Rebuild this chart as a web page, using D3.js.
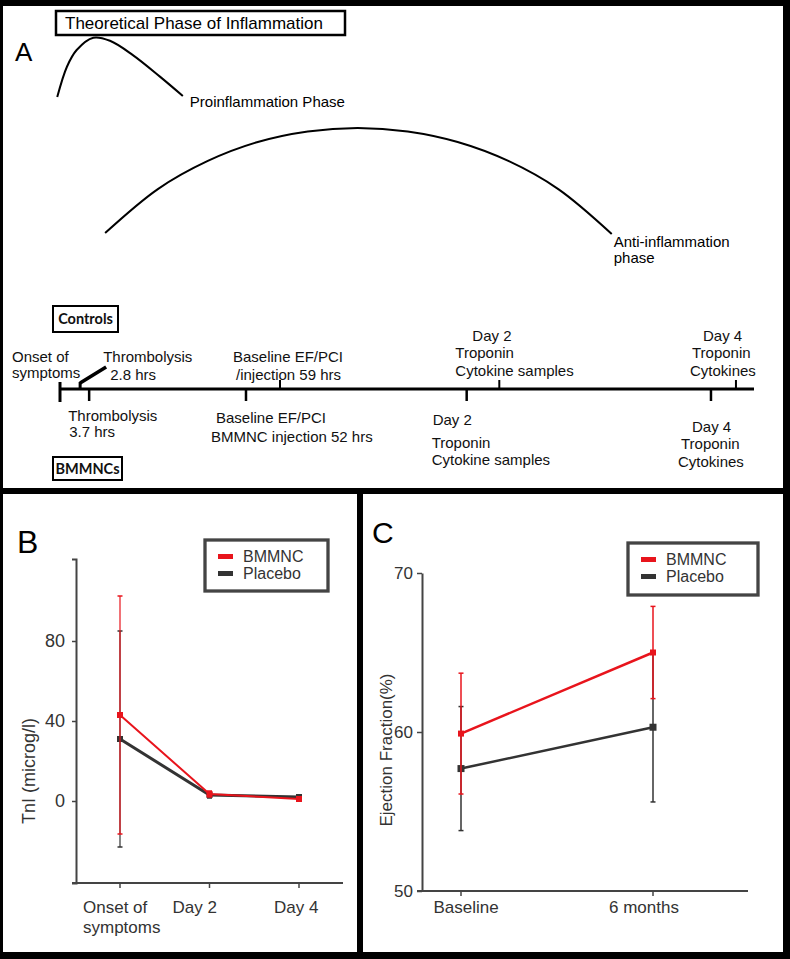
<!DOCTYPE html>
<html><head><meta charset="utf-8">
<script src="https://cdn.jsdelivr.net/npm/d3@7"></script>
<style>body{margin:0;background:#000;} svg{display:block;}</style>
</head><body><svg id="c" width="790" height="959"></svg>
<script>
// ---------- Panel A: theoretical inflammation phases (schematic units) ----------
const proPhaseX = [-0.4, 1.0, 2.4, 4.8, 7.2, 10.5, 14.4, 17.7];
const proPhaseY = [69.5, 83.3, 90.9, 96.5, 95.1, 88.6, 78.8, 70.0];
const antiPhaseX = [6.5, 14.1, 21.3, 28.5, 35.7, 42.9, 50.1, 57.3, 64.6, 71.8, 79.5];
const antiPhaseY = [7.7, 27.7, 40.5, 49.1, 53.9, 55.5, 53.9, 49.1, 40.5, 27.7, 7.3];

// ---------- Panel A: timeline (schematic position 0-100) ----------
const controlsPos = [0, 2.9, 31.7, 63.3, 97.4];
const controlsLabels = [["Onset of", "symptoms"], ["Thrombolysis", "2.8 hrs"],
  ["Baseline EF/PCI", "/injection 59 hrs"], ["Day 2", "Troponin", "Cytokine samples"],
  ["Day 4", "Troponin", "Cytokines"]];
const bmmncPos = [4.2, 26.8, 58.6, 93.8];
const bmmncLabels = [["Thrombolysis", "3.7 hrs"], ["Baseline EF/PCI", "BMMNC injection 52 hrs"],
  ["Day 2", "Troponin", "Cytokine samples"], ["Day 4", "Troponin", "Cytokines"]];

// ---------- Panel B: TnI ----------
const tnCategories = ["Onset of symptoms", "Day 2", "Day 4"];
const tnCategoryLines = [["Onset of", "symptoms"], ["Day 2"], ["Day 4"]];
const tnBMMNC = [43, 3.5, 1];
const tnBMMNCErr = [59.5, 1.5, 1];
const tnPlacebo = [31, 3, 2];
const tnPlaceboErr = [54, 1.5, 1];
const tnTicks = [0, 40, 80];

// ---------- Panel C: Ejection fraction ----------
const efCategories = ["Baseline", "6 months"];
const efBMMNC = [59.9, 65.0];
const efBMMNCErr = [3.8, 2.9];
const efPlacebo = [57.7, 60.3];
const efPlaceboErr = [3.9, 4.7];
const efTicks = [50, 60, 70];

const seriesNames = ["BMMNC", "Placebo"];
const seriesColors = ["#e8141c", "#333333"];

// ======================================================================
const FONT = "'Liberation Sans', Arial, Helvetica, sans-serif";
const svg = d3.select("#c");
svg.append("rect").attr("width", 790).attr("height", 959).attr("fill", "#000");
// panel backgrounds
svg.append("rect").attr("x", 3).attr("y", 6).attr("width", 780).attr("height", 482).attr("fill", "#fff");
svg.append("rect").attr("x", 3).attr("y", 494).attr("width", 354).attr("height", 458).attr("fill", "#fff");
svg.append("rect").attr("x", 363).attr("y", 494).attr("width", 420).attr("height", 458).attr("fill", "#fff");

// ---------------- Panel A ----------------
const A = svg.append("g");
const xA = d3.scaleLinear().domain([0, 100]).range([60, 754]);
const yA = d3.scaleLinear().domain([0, 100]).range([250, 30]);

A.append("rect").attr("x", 56).attr("y", 11).attr("width", 289).attr("height", 24)
  .attr("fill", "#fff").attr("stroke", "#000").attr("stroke-width", 2.5);
A.append("text").attr("x", 65).attr("y", 29).attr("font-family", FONT).attr("font-size", 17)
  .text("Theoretical Phase of Inflammation");
A.append("text").attr("x", 15).attr("y", 61).attr("font-family", FONT).attr("font-size", 26).text("A");

const phaseLine = d3.line().x(d => xA(d[0])).y(d => yA(d[1])).curve(d3.curveCatmullRom);
A.append("path").attr("d", phaseLine(d3.zip(proPhaseX, proPhaseY)))
  .attr("fill", "none").attr("stroke", "#000").attr("stroke-width", 2);
A.append("path").attr("d", phaseLine(d3.zip(antiPhaseX, antiPhaseY)))
  .attr("fill", "none").attr("stroke", "#000").attr("stroke-width", 2);
A.append("text").attr("x", xA(proPhaseX[proPhaseX.length - 1]) + 7).attr("y", yA(proPhaseY[proPhaseY.length - 1]) + 11)
  .attr("font-family", FONT).attr("font-size", 15).text("Proinflammation Phase");
const antiEndX = xA(antiPhaseX[antiPhaseX.length - 1]) + 2;
A.append("text").attr("x", antiEndX).attr("y", 247).attr("font-family", FONT).attr("font-size", 15).text("Anti-inflammation");
A.append("text").attr("x", antiEndX).attr("y", 263).attr("font-family", FONT).attr("font-size", 15).text("phase");

// group boxes
function groupBox(x, y, w, h, label) {
  A.append("rect").attr("x", x).attr("y", y).attr("width", w).attr("height", h)
    .attr("fill", "#fff").attr("stroke", "#000").attr("stroke-width", 2);
  A.append("text").attr("x", x + w / 2).attr("y", y + h / 2 + 5).attr("text-anchor", "middle")
    .attr("font-family", "Lato, 'Open Sans', sans-serif").attr("font-weight", "bold").attr("font-size", 14.5)
    .attr("fill", "#111").text(label);
}
groupBox(53, 306, 65, 26, "Controls");
groupBox(53, 457, 69, 23, "BMMNCs");

// timeline
const lineY = 389;
A.append("line").attr("x1", xA(0)).attr("x2", xA(100)).attr("y1", lineY).attr("y2", lineY)
  .attr("stroke", "#000").attr("stroke-width", 3);
A.append("line").attr("x1", xA(0)).attr("x2", xA(0)).attr("y1", 382).attr("y2", 402)
  .attr("stroke", "#000").attr("stroke-width", 3);

// controls ticks (above)
controlsPos.forEach((p, i) => {
  const x = xA(p);
  if (i === 1) {
    A.append("line").attr("x1", x).attr("x2", x).attr("y1", 382).attr("y2", lineY).attr("stroke", "#000").attr("stroke-width", 3);
    A.append("line").attr("x1", x).attr("x2", x + 26).attr("y1", 383).attr("y2", 367).attr("stroke", "#000").attr("stroke-width", 3.5);
  } else if (i > 1) {
    A.append("line").attr("x1", x).attr("x2", x).attr("y1", 380).attr("y2", lineY).attr("stroke", "#000").attr("stroke-width", 2);
  }
});
// bmmnc ticks (below)
bmmncPos.forEach(p => {
  const x = xA(p);
  A.append("line").attr("x1", x).attr("x2", x).attr("y1", lineY).attr("y2", 401).attr("stroke", "#000").attr("stroke-width", 2.5);
});

// label layout (offset from tick x, baseline y per line)
const controlsLayout = [
  {dx: [-48, -48], y: [362, 378]},
  {dx: [23, 30], y: [362, 380]},
  {dx: [-47, -44], y: [362, 380]},
  {dx: [-27, -44, -44], y: [341, 358, 376]},
  {dx: [-33, -44, -46], y: [341, 358, 376]}
];
const bmmncLayout = [
  {dx: [-21, -20], y: [421, 437]},
  {dx: [-30, -35], y: [423, 442]},
  {dx: [-34, -35, -35], y: [425, 448, 465]},
  {dx: [-19, -30, -33], y: [432, 449, 467]}
];
function drawLabels(pos, labels, layout) {
  labels.forEach((lines, i) => {
    const x = xA(pos[i]);
    lines.forEach((t, j) => {
      A.append("text").attr("x", x + layout[i].dx[j]).attr("y", layout[i].y[j])
        .attr("font-family", FONT).attr("font-size", 15).attr("fill", "#111").text(t);
    });
  });
}
drawLabels(controlsPos, controlsLabels, controlsLayout);
drawLabels(bmmncPos, bmmncLabels, bmmncLayout);

// ---------------- Line-chart helper ----------------
function legend(g, x, y, w, h) {
  g.append("rect").attr("x", x).attr("y", y).attr("width", w).attr("height", h)
    .attr("fill", "#fff").attr("stroke", "#444").attr("stroke-width", 3.3);
  seriesNames.forEach((n, i) => {
    g.append("rect").attr("x", x + 13).attr("y", y + 14 + i * 17).attr("width", 15).attr("height", 5)
      .attr("fill", seriesColors[i]);
    g.append("text").attr("x", x + 38).attr("y", y + 22 + i * 17).attr("font-family", FONT)
      .attr("font-size", 16).attr("fill", "#333").text(n);
  });
}

function drawSeries(g, x, y, cats, vals, errs, color, lw, errW, mk) {
  cats.forEach((c, i) => {
    const cx = x(c);
    g.append("line").attr("x1", cx).attr("x2", cx).attr("y1", y(vals[i] - errs[i])).attr("y2", y(vals[i] + errs[i]))
      .attr("stroke", color).attr("stroke-width", errW);
    [vals[i] - errs[i], vals[i] + errs[i]].forEach(v => {
      g.append("line").attr("x1", cx - 2.5).attr("x2", cx + 2.5).attr("y1", y(v)).attr("y2", y(v))
        .attr("stroke", color).attr("stroke-width", 1.5);
    });
  });
  g.append("path").attr("d", d3.line().x((d, i) => x(cats[i])).y(d => y(d))(vals))
    .attr("fill", "none").attr("stroke", color).attr("stroke-width", lw);
  cats.forEach((c, i) => {
    g.append("rect").attr("x", x(c) - mk / 2).attr("y", y(vals[i]) - mk / 2).attr("width", mk).attr("height", mk)
      .attr("fill", color);
  });
}

function styleAxis(ax, size) {
  ax.select(".domain").attr("stroke", "#444").attr("stroke-width", 2);
  ax.selectAll(".tick line").attr("stroke", "#444").attr("stroke-width", 1.5);
  ax.selectAll(".tick text").attr("fill", "#333").attr("font-size", size).attr("font-family", FONT);
}

// ---------------- Panel B ----------------
const B = svg.append("g");
B.append("text").attr("x", 17).attr("y", 553).attr("font-family", FONT).attr("font-size", 32).text("B");
const xB = d3.scalePoint().domain(tnCategories).range([120, 299]);
const yB = d3.scaleLinear().domain([-41, 121]).range([883, 559]);
const axB = B.append("g").attr("transform", "translate(76,0)")
  .call(d3.axisLeft(yB).tickValues(tnTicks).tickSize(4).tickPadding(7));
styleAxis(axB, 18);
B.append("line").attr("x1", 72).attr("x2", 343).attr("y1", yB(-41)).attr("y2", yB(-41))
  .attr("stroke", "#444").attr("stroke-width", 2);
const tnLabelDx = [-37, -37, -25];
tnCategories.forEach((c, i) => {
  B.append("line").attr("x1", xB(c)).attr("x2", xB(c)).attr("y1", yB(-41)).attr("y2", yB(-41) + 5)
    .attr("stroke", "#444").attr("stroke-width", 1.5);
  tnCategoryLines[i].forEach((t, j) => {
    B.append("text").attr("x", xB(c) + tnLabelDx[i]).attr("y", yB(-41) + 30 + j * 20)
      .attr("font-family", FONT).attr("font-size", 17).attr("fill", "#333").text(t);
  });
});
B.append("text").attr("transform", "translate(35,771) rotate(-90)").attr("text-anchor", "middle")
  .attr("font-family", FONT).attr("font-size", 18).attr("fill", "#333").text("TnI (microg/l)");
drawSeries(B, xB, yB, tnCategories, tnPlacebo, tnPlaceboErr, seriesColors[1], 3, 1.2, 6);
drawSeries(B, xB, yB, tnCategories, tnBMMNC, tnBMMNCErr, seriesColors[0], 2, 1.2, 6);
legend(B, 205, 540, 123, 51);

// ---------------- Panel C ----------------
const C = svg.append("g");
C.append("text").attr("x", 372).attr("y", 543).attr("font-family", FONT).attr("font-size", 30).text("C");
const xC = d3.scalePoint().domain(efCategories).range([461, 653]);
const yC = d3.scaleLinear().domain([50, 70]).range([891, 573]);
const axC = C.append("g").attr("transform", "translate(422,0)")
  .call(d3.axisLeft(yC).tickValues(efTicks).tickSize(5).tickSizeOuter(0).tickPadding(4));
styleAxis(axC, 17);
C.append("line").attr("x1", 417).attr("x2", 748).attr("y1", yC(50)).attr("y2", yC(50))
  .attr("stroke", "#444").attr("stroke-width", 2);
const efLabelDx = [5, -9];
efCategories.forEach((c, i) => {
  C.append("line").attr("x1", xC(c)).attr("x2", xC(c)).attr("y1", yC(50)).attr("y2", yC(50) + 5)
    .attr("stroke", "#444").attr("stroke-width", 1.5);
  C.append("text").attr("x", xC(c) + efLabelDx[i]).attr("y", yC(50) + 22).attr("text-anchor", "middle")
    .attr("font-family", FONT).attr("font-size", 17).attr("fill", "#333").text(c);
});
C.append("text").attr("transform", "translate(392,750) rotate(-90)").attr("text-anchor", "middle")
  .attr("font-family", FONT).attr("font-size", 17).attr("fill", "#333").text("Ejection Fraction(%)");
drawSeries(C, xC, yC, efCategories, efPlacebo, efPlaceboErr, seriesColors[1], 2.5, 1.5, 7);
drawSeries(C, xC, yC, efCategories, efBMMNC, efBMMNCErr, seriesColors[0], 2.5, 1.5, 6);
legend(C, 628, 543, 130, 52);
</script></body></html>
